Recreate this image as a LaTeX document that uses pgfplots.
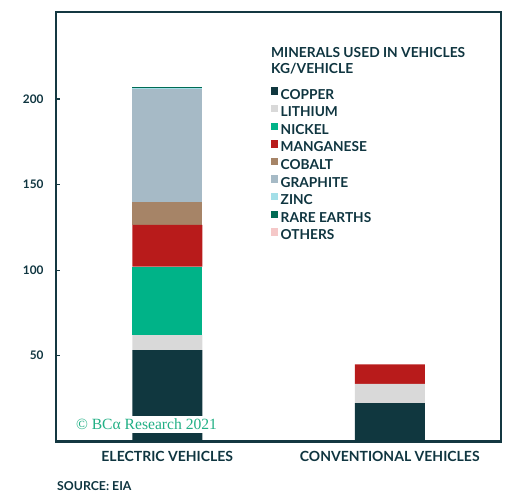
\documentclass[border=0pt]{standalone}
\usepackage{pgfplots}
\pgfplotsset{compat=1.18}
\usepackage{fontspec}
\setmainfont{Lato}
\newfontfamily\wmfont{Liberation Serif}
\definecolor{txt}{HTML}{0F3540}
\definecolor{frame}{HTML}{143841}
\definecolor{copper}{HTML}{10373F}
\definecolor{lithium}{HTML}{D9D9D9}
\definecolor{nickel}{HTML}{00B388}
\definecolor{manganese}{HTML}{B81B1B}
\definecolor{cobalt}{HTML}{A68467}
\definecolor{graphite}{HTML}{A6BAC6}
\definecolor{zinc}{HTML}{A3DFE8}
\definecolor{rareearth}{HTML}{006B54}
\definecolor{others}{HTML}{F5C8C8}
\definecolor{wm}{HTML}{22B085}
\begin{document}
\begin{tikzpicture}
\path[use as bounding box] (0,0) rectangle (530pt,496pt);
\begin{axis}[
  at={(56pt,54.7pt)}, anchor=south west,
  scale only axis, width=445pt, height=429.3pt,
  ybar stacked, bar width=70pt,
  xmin=-0.5, xmax=1.5, ymin=0, ymax=250.8,
  xtick={0,1}, xticklabels={ELECTRIC VEHICLES, CONVENTIONAL VEHICLES},
  ytick={50,100,150,200},
  axis line style={frame, line width=2.5pt},
  ytick pos=left, tick align=inside,
  major tick length=4pt,
  ytick style={frame, line width=1.2pt},
  major x tick style={draw=none},
  /pgf/number format/assume math mode=true,
  yticklabel style={font=\bfseries\fontsize{11.8}{14}\selectfont, text=txt, xshift=-9pt},
  xticklabel style={font=\bfseries\fontsize{14}{16}\selectfont, text=txt, yshift=-6pt},
  legend style={at={(0.4825,0.8246)}, anchor=north west, draw=none, fill=none,
    inner sep=0pt, row sep=3.55pt, nodes={inner sep=1pt, inner xsep=2.5pt},
    font=\bfseries\fontsize{13.7}{16}\selectfont, text=txt},
  legend cell align=left,
  legend image code/.code={\fill[#1] (0pt,0pt) rectangle (7.3pt,7.3pt);},
]
\addplot+[fill=copper, draw=none] coordinates {(0,53.2) (1,22.3)};
\addlegendentry{COPPER}
\addplot+[fill=lithium, draw=none] coordinates {(0,8.9) (1,11.2)};
\addlegendentry{LITHIUM}
\addplot+[fill=nickel, draw=none] coordinates {(0,39.9) (1,0)};
\addlegendentry{NICKEL}
\addplot+[fill=manganese, draw=none] coordinates {(0,24.5) (1,11.5)};
\addlegendentry{MANGANESE}
\addplot+[fill=cobalt, draw=none] coordinates {(0,13.3) (1,0)};
\addlegendentry{COBALT}
\addplot+[fill=graphite, draw=none] coordinates {(0,66.3) (1,0)};
\addlegendentry{GRAPHITE}
\addplot+[fill=zinc, draw=none] coordinates {(0,0.1) (1,0)};
\addlegendentry{ZINC}
\addplot+[fill=rareearth, draw=none] coordinates {(0,0.5) (1,0)};
\addlegendentry{RARE EARTHS}
\addplot+[fill=others, draw=none] coordinates {(0,0.3) (1,0)};
\addlegendentry{OTHERS}
\end{axis}
\node[fill=white, inner xsep=2pt, inner ysep=3pt, text=wm,
  font=\wmfont\fontsize{15.6}{17}\selectfont] at (146.5pt,71.8pt) {© BCα Research 2021};
\node[anchor=base west, text=txt, font=\bfseries\fontsize{13.8}{16}\selectfont, inner sep=0pt] at (271pt,438.3pt) {MINERALS USED IN VEHICLES};
\node[anchor=base west, text=txt, font=\bfseries\fontsize{13.8}{16}\selectfont, inner sep=0pt] at (271pt,422pt) {KG/VEHICLE};
\node[anchor=west, text=txt, font=\bfseries\fontsize{12.3}{14}\selectfont, inner sep=0pt] at (57pt,10pt) {SOURCE: EIA};
\end{tikzpicture}
\end{document}
